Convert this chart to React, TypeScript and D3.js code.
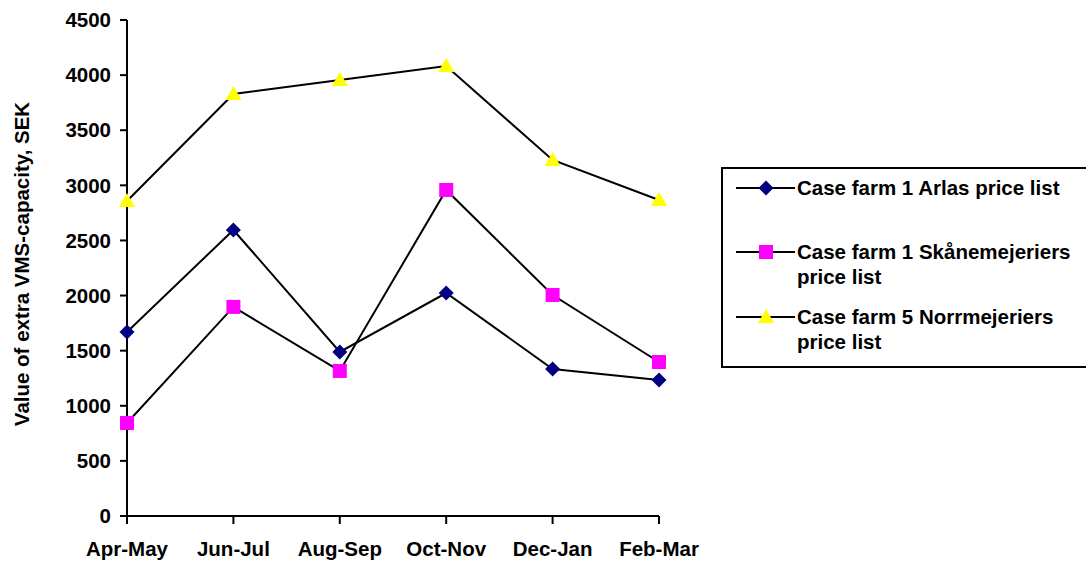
import React from 'react';
import * as d3 from 'd3';

const categories = ['Apr-May', 'Jun-Jul', 'Aug-Sep', 'Oct-Nov', 'Dec-Jan', 'Feb-Mar'];
const arlaValues = [1670, 2595, 1488, 2023, 1334, 1234];
const skaneValues = [844, 1897, 1316, 2958, 2005, 1397];
const norrValues = [2858, 3829, 3956, 4083, 3230, 2867];
const yTicks = [0, 500, 1000, 1500, 2000, 2500, 3000, 3500, 4000, 4500];

const series = [
  { name: ['Case farm 1 Arlas price list'], values: arlaValues, shape: 'diamond', color: '#000080' },
  { name: ['Case farm 1 Skånemejeriers', 'price list'], values: skaneValues, shape: 'square', color: '#FF00FF' },
  { name: ['Case farm 5 Norrmejeriers', 'price list'], values: norrValues, shape: 'triangle', color: '#FFFF00' },
];

const W = 1086;
const H = 563;
const font = 'Arial, "Liberation Sans", sans-serif';
const fs = 20.5;

const Marker: React.FC<{ shape: string; color: string; x: number; y: number }> = ({ shape, color, x, y }) => {
  if (shape === 'diamond') {
    return <path d={`M${x},${y - 7.5}L${x + 7.5},${y}L${x},${y + 7.5}L${x - 7.5},${y}Z`} fill={color} />;
  }
  if (shape === 'square') {
    return <rect x={x - 7} y={y - 7} width={14} height={14} fill={color} />;
  }
  return <path d={`M${x},${y - 8}L${x + 8},${y + 6}L${x - 8},${y + 6}Z`} fill={color} />;
};

export default function App() {
  const x = d3.scalePoint<string>().domain(categories).range([127, 659]);
  const y = d3.scaleLinear().domain([0, 4500]).range([516, 20]);
  const line = d3.line<number>()
    .x((_, i) => x(categories[i]) as number)
    .y(d => y(d));

  const legendRows = [188, 252, 317];

  return (
    <svg width={W} height={H} style={{ position: 'absolute', left: 0, top: 0, background: '#fff' }} fontFamily={font}>
      {/* axes */}
      <line x1={127} y1={y(4500)} x2={127} y2={516} stroke="#000" strokeWidth={2} />
      <line x1={127} y1={516} x2={659} y2={516} stroke="#000" strokeWidth={2} />
      {yTicks.map(t => (
        <g key={t}>
          <line x1={120} x2={127} y1={y(t)} y2={y(t)} stroke="#000" strokeWidth={2} />
          <text x={111} y={y(t)} dy="0.35em" textAnchor="end" fontSize={fs} fontWeight="bold">{t}</text>
        </g>
      ))}
      {categories.map(c => (
        <g key={c}>
          <line x1={x(c)} x2={x(c)} y1={516} y2={524} stroke="#000" strokeWidth={2} />
          <text x={x(c)} y={549} dy="0.35em" textAnchor="middle" fontSize={fs} fontWeight="bold">{c}</text>
        </g>
      ))}
      <text transform="translate(22,264) rotate(-90)" dy="0.35em" textAnchor="middle" fontSize={fs} fontWeight="bold">
        Value of extra VMS-capacity, SEK
      </text>

      {/* series */}
      {series.map(s => (
        <g key={s.shape}>
          <path d={line(s.values) || ''} fill="none" stroke="#000" strokeWidth={2} />
          {s.values.map((v, i) => (
            <Marker key={i} shape={s.shape} color={s.color} x={x(categories[i]) as number} y={y(v)} />
          ))}
        </g>
      ))}

      {/* legend */}
      <rect x={722} y={168} width={370} height={199} fill="#fff" stroke="#000" strokeWidth={2} />
      {series.map((s, i) => (
        <g key={s.shape}>
          <line x1={736} x2={795} y1={legendRows[i]} y2={legendRows[i]} stroke="#000" strokeWidth={2} />
          <Marker shape={s.shape} color={s.color} x={766} y={legendRows[i]} />
          {s.name.map((n, j) => (
            <text key={j} x={797} y={legendRows[i] + j * 25} dy="0.35em" fontSize={fs} fontWeight="bold">{n}</text>
          ))}
        </g>
      ))}
    </svg>
  );
}
